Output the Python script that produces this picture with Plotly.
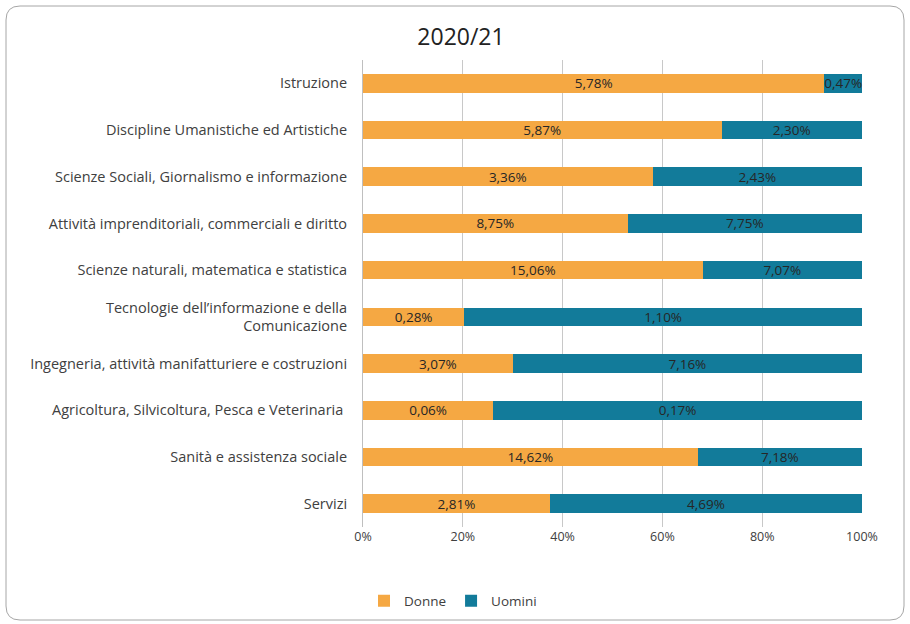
import plotly.graph_objects as go

# Share of graduates by field of study, 2020/21
categories = [
    "Istruzione",
    "Discipline Umanistiche ed Artistiche",
    "Scienze Sociali, Giornalismo e informazione",
    "Attività imprenditoriali, commerciali e diritto",
    "Scienze naturali, matematica e statistica",
    "Tecnologie dell’informazione e della<br>Comunicazione",
    "Ingegneria, attività manifatturiere e costruzioni",
    "Agricoltura, Silvicoltura, Pesca e Veterinaria ",
    "Sanità e assistenza sociale",
    "Servizi",
]
donne = [5.78, 5.87, 3.36, 8.75, 15.06, 0.28, 3.07, 0.06, 14.62, 2.81]
uomini = [0.47, 2.30, 2.43, 7.75, 7.07, 1.10, 7.16, 0.17, 7.18, 4.69]
tick_vals = [0, 20, 40, 60, 80, 100]
tick_text = ["0%", "20%", "40%", "60%", "80%", "100%"]

FONT = "Open Sans"
W, H = 910, 624
ML, MR, MT, MB = 363, 48, 60, 97


def fmt(v):
    return f"{v:.2f}%".replace(".", ",")


fig = go.Figure()
for name, vals, color in [("Donne", donne, "#F5A843"), ("Uomini", uomini, "#127B9A")]:
    fig.add_trace(go.Bar(
        name=name,
        y=categories,
        x=vals,
        orientation="h",
        marker=dict(color=color, line=dict(width=0)),
        text=[fmt(v) for v in vals],
        textposition="inside",
        insidetextanchor="middle",
        textangle=0,
        constraintext="none",
        textfont=dict(family=FONT, size=13.5, color="#262626"),
        cliponaxis=False,
    ))

# rounded chart frame, expressed in pixels and converted to paper coords
pw, ph = W - ML - MR, H - MT - MB


def px(x):
    return (x - ML) / pw


def py(y):
    return 1 - (y - MT) / ph


x0, y0, x1, y1, r = 6, 6, 904, 620, 14
path = (
    f"M {px(x0 + r)} {py(y0)} L {px(x1 - r)} {py(y0)} "
    f"Q {px(x1)} {py(y0)} {px(x1)} {py(y0 + r)} "
    f"L {px(x1)} {py(y1 - r)} Q {px(x1)} {py(y1)} {px(x1 - r)} {py(y1)} "
    f"L {px(x0 + r)} {py(y1)} Q {px(x0)} {py(y1)} {px(x0)} {py(y1 - r)} "
    f"L {px(x0)} {py(y0 + r)} Q {px(x0)} {py(y0)} {px(x0 + r)} {py(y0)} Z"
)

fig.update_layout(
    width=W,
    height=H,
    barmode="stack",
    barnorm="percent",
    bargap=0.6,
    margin=dict(l=ML, r=MR, t=MT, b=MB),
    paper_bgcolor="white",
    plot_bgcolor="white",
    font=dict(family=FONT, size=13, color="#404040"),
    title=dict(
        text="2020/21",
        x=461 / W, xref="container", xanchor="center",
        y=1 - 37 / H, yref="container", yanchor="middle",
        font=dict(family=FONT, size=23, color="#222222"),
    ),
    xaxis=dict(
        range=[0, 100],
        tickvals=tick_vals,
        ticktext=tick_text,
        showgrid=True,
        gridcolor="#C8C8C8",
        gridwidth=1,
        zeroline=False,
        showline=False,
        ticks="",
        tickfont=dict(family=FONT, size=12.5, color="#404040"),
        fixedrange=True,
    ),
    yaxis=dict(
        autorange="reversed",
        showline=True,
        linecolor="#BFBFBF",
        linewidth=1,
        ticks="",
        ticklabelstandoff=12,
        tickfont=dict(family=FONT, size=14.5, color="#404040"),
        fixedrange=True,
    ),
    legend=dict(
        orientation="h",
        x=453 / W, xref="container", xanchor="center",
        y=1 - 601 / H, yref="container", yanchor="middle",
        font=dict(family=FONT, size=13.5, color="#404040"),
        itemwidth=30,
        traceorder="normal",
    ),
    shapes=[dict(
        type="path", path=path, xref="paper", yref="paper",
        line=dict(color="#A6A6A6", width=1), layer="below",
    )],
    showlegend=True,
)

fig.write_html("out.html")
